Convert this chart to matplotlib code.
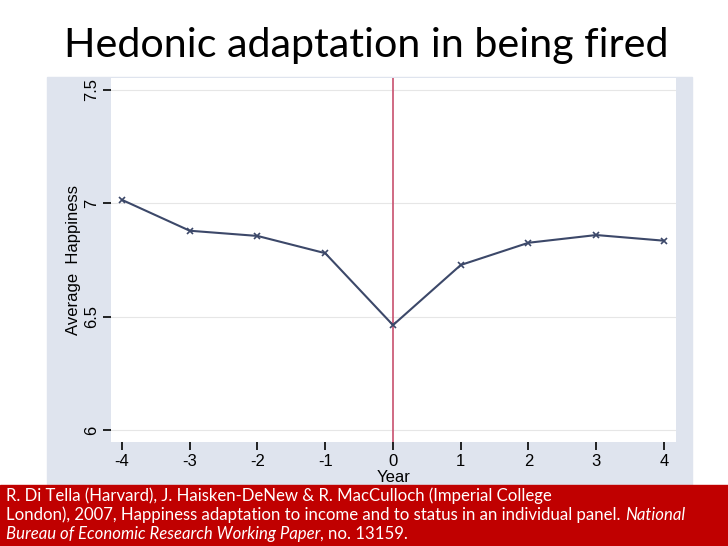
import matplotlib.pyplot as plt
from matplotlib.patches import Rectangle

years = [-4, -3, -2, -1, 0, 1, 2, 3, 4]
happiness = [7.015, 6.879, 6.856, 6.780, 6.463, 6.728, 6.826, 6.860, 6.835]
yticks = [6, 6.5, 7, 7.5]
yticklabels = ["6", "6.5", "7", "7.5"]

W, H = 728, 546
fig = plt.figure(figsize=(W / 100, H / 100), dpi=100)

# stata-like grey panel behind the plot
fig.patches.append(Rectangle((47 / W, 1 - 485 / H), (692 - 47) / W, (485 - 77) / H,
                             transform=fig.transFigure, color="#dfe4ee", zorder=-5))

ax = fig.add_axes([111 / W, 1 - 442 / H, (676 - 111) / W, (442 - 78) / H])
ax.set_facecolor("white")
ax.set_xlim(-4.162, 4.177)
ax.set_ylim(5.948, 7.552)
for s in ax.spines.values():
    s.set_visible(False)
ax.set_yticks(yticks)
ax.set_yticklabels(yticklabels, rotation=90, va="center", fontsize=12,
                   family="Liberation Sans")
ax.set_xticks(years)
ax.set_xticklabels([str(y) for y in years], fontsize=12, family="Liberation Sans")
ax.tick_params(axis="y", length=6, width=1.2, pad=2.5)
ax.tick_params(axis="x", length=6, width=1.2, pad=3)
ax.grid(axis="y", color="#e6e6e6", lw=0.8)
ax.set_axisbelow(True)

ax.axvline(0, color="#c8506e", lw=1.2)
ax.plot(years, happiness, color="#3c4869", lw=1.5, marker="x", ms=4, mew=1.2)

ax.set_ylabel("Average  Happiness", fontsize=12, family="Liberation Sans", labelpad=2)
ax.set_xlabel("Year", fontsize=12, family="Liberation Sans", labelpad=0)

fig.text(366 / W, 1 - 45 / H, "Hedonic adaptation in being fired", ha="center",
         va="center", fontsize=29.7, family="Lato")

# red citation box
fig.patches.append(Rectangle((0, 0), 1, (H - 485) / H, transform=fig.transFigure,
                             color="#c00000", zorder=-5))
kw = dict(color="white", fontsize=12.1, family="Lato", va="baseline")
x0 = 6 / W
fig.text(x0, 1 - 501 / H, "R. Di Tella (Harvard), J. Haisken-DeNew & R. MacCulloch (Imperial College", **kw)
t2 = fig.text(x0, 1 - 520 / H, "London), 2007, Happiness adaptation to income and to status in an individual panel. ", **kw)
t3 = fig.text(x0, 1 - 539 / H, "Bureau of Economic Research Working Paper", style="italic", **kw)

fig.canvas.draw()
r = fig.canvas.get_renderer()
inv = fig.transFigure.inverted()
e2 = t2.get_window_extent(r)
fig.text(inv.transform((e2.x1, 0))[0], 1 - 520 / H, "National", style="italic", **kw)
e3 = t3.get_window_extent(r)
fig.text(inv.transform((e3.x1, 0))[0], 1 - 539 / H, ", no. 13159.", **kw)

fig.savefig("out.png", dpi=100)
